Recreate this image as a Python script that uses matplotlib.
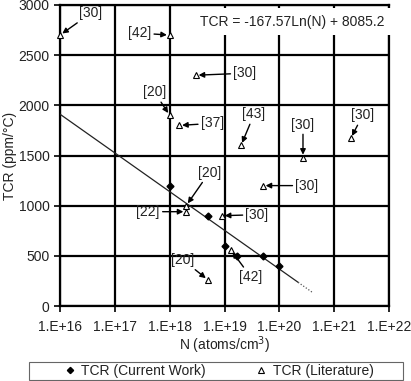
import matplotlib
matplotlib.use('Agg')
import matplotlib.pyplot as plt
from matplotlib.patches import Rectangle
import numpy as np

plt.rcParams['font.family'] = ['Liberation Sans', 'DejaVu Sans']

# current work
cw_n = [1e18, 5e18, 1e19, 1.7e19, 5e19, 1e20]
cw_tcr = [1200, 900, 600, 500, 500, 400]

# literature values and their reference labels
lit_n = [1e16, 1e18, 3e18, 1e18, 1.5e18, 2e19, 2.7e20, 2e21, 5e19, 2e18, 2e18, 9e18, 1.3e19, 5e18]
lit_tcr = [2700, 2700, 2300, 1900, 1800, 1600, 1480, 1670, 1200, 1000, 940, 900, 560, 260]
lit_ref = ['[30]', '[42]', '[30]', '[20]', '[37]', '[43]', '[30]', '[30]', '[30]', '[20]', '[22]', '[30]', '[42]', '[20]']

# trend line: TCR = -167.57 Ln(N) + 8085.2
slope = -167.57
intercept = 8085.2
trend_solid = [1e16, 2.2e20]
trend_dot = [2.2e20, 4e20]

x_ticks = [1e16, 1e17, 1e18, 1e19, 1e20, 1e21, 1e22]
x_labels = ['1.E+16', '1.E+17', '1.E+18', '1.E+19', '1.E+20', '1.E+21', '1.E+22']
y_ticks = [0, 500, 1000, 1500, 2000, 2500, 3000]

# label offsets in pixels (dx, dy) for each literature point
offsets = [(31, 22), (-30, 2), (49, 2), (-15, 23), (33, 2), (13, 31), (0, 33),
           (12, 23), (44, 0), (23, 33), (-38, 0), (35, 1), (20, -27), (-25, 20)]

fs = 10
txt = '#222222'

fig = plt.figure(figsize=(4.11, 3.81), dpi=100)
ax = fig.add_axes([60/411, 1-306/381, 329/411, 301/381])

ax.set_xscale('log')
ax.set_xlim(1e16, 1e22)
ax.set_ylim(0, 3000)
ax.set_xticks(x_ticks)
ax.set_xticklabels(x_labels)
ax.minorticks_off()
ax.set_yticks(y_ticks)
ax.grid(True, color='black', lw=1.6)
ax.set_axisbelow(True)
for s in ax.spines.values():
    s.set_linewidth(1.6)
ax.tick_params(labelsize=fs, length=4, width=1.2, colors='black', labelcolor=txt)
ax.tick_params(axis='x', pad=6)

ts = np.array(trend_solid)
td = np.array(trend_dot)
ax.plot(ts, slope*np.log(ts) + intercept, color='#222222', lw=0.9, zorder=3)
ax.plot(td, slope*np.log(td) + intercept, color='#555555', lw=0.9, ls=(0, (1, 1.5)), zorder=3)

ax.plot(cw_n, cw_tcr, ls='none', marker='D', ms=3.5, color='black', zorder=4,
        label='TCR (Current Work)')
ax.plot(lit_n, lit_tcr, ls='none', marker='^', ms=5, mfc='white', mec='black', mew=0.8,
        zorder=4, label='TCR (Literature)', clip_on=False)

for n, t, r, (dx, dy) in zip(lit_n, lit_tcr, lit_ref, offsets):
    ax.annotate(r, xy=(n, t), xytext=(dx, dy), textcoords='offset pixels',
                ha='center', va='center', fontsize=fs, color=txt,
                arrowprops=dict(arrowstyle='-|>', color='black', lw=1.0,
                                mutation_scale=8, shrinkA=0, shrinkB=2),
                zorder=5)

ax.text(0.985, 0.945, 'TCR = -167.57Ln(N) + 8085.2', transform=ax.transAxes,
        ha='right', va='center', fontsize=fs, color=txt, zorder=6,
        bbox=dict(facecolor='white', edgecolor='none', pad=5))

ax.set_ylabel('TCR (ppm/°C)', fontsize=fs, color=txt)
ax.yaxis.set_label_coords(-43/329, 0.5)
ax.set_xlabel('N (atoms/cm$^3$)', fontsize=fs, color=txt)
ax.xaxis.set_label_coords(0.5, -28/301)

# legend frame drawn separately so it spans the full width
fig.patches.append(Rectangle((29/411, 1-380/381), 374/411, 18/381, transform=fig.transFigure,
                             facecolor='white', edgecolor='#666666', lw=0.8))
leg = fig.legend(loc='center', bbox_to_anchor=(219/411, 1-371/381), ncol=2, fontsize=fs,
                 frameon=False, handlelength=0.8, handletextpad=0.4, columnspacing=3.6,
                 borderpad=0, markerscale=0.9)
for t in leg.get_texts():
    t.set_color(txt)

fig.savefig('out.png', dpi=100)
